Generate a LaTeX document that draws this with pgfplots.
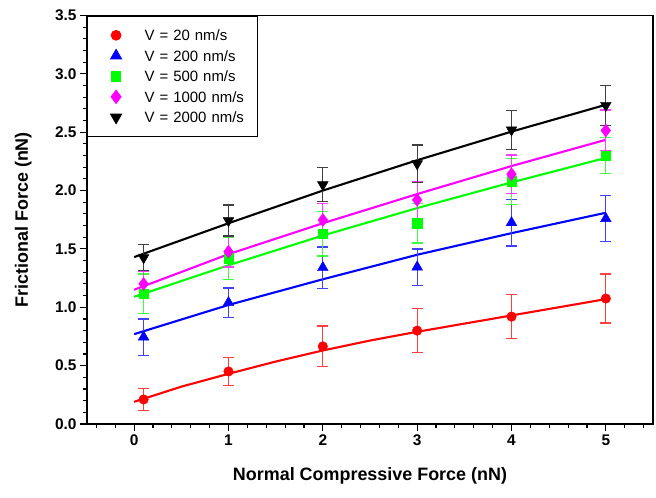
\documentclass[border=0pt]{standalone}
\usepackage{fontspec}
\setmainfont{Liberation Sans}
\usepackage{pgfplots}
\pgfplotsset{compat=1.18}
\definecolor{cgreen}{RGB}{0,255,0}
\definecolor{cmag}{RGB}{255,0,255}
\pgfplotsset{
  ebar/.style={error bars/.cd, y dir=both, y explicit,
    error bar style={line width=1.2bp, draw=#1},
    error mark options={rotate=90, mark size=5.5bp, line width=1.2bp, draw=#1}},
}
\begin{document}
\begin{tikzpicture}
\begin{axis}[name=ax, scale only axis, width=566bp, height=408.5bp,
  xmin=-0.5, xmax=5.5, ymin=0, ymax=3.5,
  xtick={0,1,2,3,4,5},
  minor xtick={-0.4,-0.2,0.2,0.4,0.6,0.8,1.2,1.4,1.6,1.8,2.2,2.4,2.6,2.8,3.2,3.4,3.6,3.8,4.2,4.4,4.6,4.8,5.2,5.4},
  ytick={0,0.5,1,1.5,2,2.5,3,3.5}, minor y tick num=4,
  xtick pos=bottom, ytick pos=left,
  tick align=outside, major tick length=7bp, minor tick length=4bp,
  axis line style={line width=1.3bp},
  every tick/.style={black, line width=1.1bp},
  /pgf/number format/assume math mode=true,
  ticklabel style={font=\fontsize{15.5}{16}\selectfont\bfseries},
  yticklabel style={/pgf/number format/.cd, fixed, fixed zerofill, precision=1},
  xlabel={Normal Compressive Force (nN)},
  ylabel={Frictional Force (nN)},
  every axis x label/.style={at={(axis description cs:0.5,0)}, anchor=base, yshift=-56bp, font=\fontsize{18}{18}\selectfont\bfseries},
  every axis y label/.style={at={(axis description cs:0,0.5)}, xshift=-59bp, rotate=90, anchor=base, font=\fontsize{18}{18}\selectfont\bfseries},
  legend image code/.code={\path (0bp,0bp) (56bp,0bp); \draw[#1] plot coordinates {(28bp,0bp)};},
  legend style={at={(0,1)}, anchor=north west, draw=black, line width=1.1bp, inner xsep=0pt, inner ysep=9bp, row sep=0pt, column sep=0pt,
    font=\fontsize{15}{15}\selectfont,
    nodes={inner sep=0pt, text width=113bp, align=left, text height=15.65bp, text depth=4.85bp}},
  legend cell align=left,
]
% fit lines
\addplot[red, line width=2.1bp, forget plot] coordinates {(0,0.19) (0.5,0.32) (1,0.43) (1.5,0.535) (2,0.63) (2.5,0.715) (3,0.79) (3.5,0.86) (4,0.93) (4.5,1.0) (5,1.07)};
\addplot[blue, line width=2.1bp, forget plot] coordinates {(0,0.77) (1,1.02) (2,1.24) (3,1.45) (4,1.635) (5,1.81)};
\addplot[cgreen, line width=2.1bp, forget plot] coordinates {(0,1.09) (1,1.36) (2,1.615) (3,1.85) (4,2.07) (5,2.28)};
\addplot[cmag, line width=2.1bp, forget plot] coordinates {(0,1.15) (1,1.455) (2,1.72) (3,1.97) (4,2.21) (5,2.435)};
\addplot[black, line width=2.1bp, forget plot] coordinates {(0,1.43) (1,1.72) (2,2.0) (3,2.26) (4,2.505) (5,2.735)};
% data with error bars
\addplot[only marks, mark=*, color=red, mark size=4.8bp, ebar=red!75!white]
  coordinates {(0.1,0.21) +- (0,0.095) (1,0.45) +- (0,0.12) (2,0.665) +- (0,0.175) (3,0.80) +- (0,0.19) (4,0.92) +- (0,0.19) (5,1.075) +- (0,0.21)};
\addlegendentry{V = 20 nm/s}
\addplot[only marks, mark=triangle*, color=blue, mark size=6.2bp, ebar=blue!75!white]
  coordinates {(0.1,0.745) +- (0,0.155) (1,1.04) +- (0,0.126) (2,1.34) +- (0,0.177) (3,1.345) +- (0,0.155) (4,1.725) +- (0,0.2) (5,1.76) +- (0,0.195)};
\addlegendentry{V = 200 nm/s}
\addplot[only marks, mark=square*, color=cgreen, mark size=4.8bp, ebar=cgreen!75!white]
  coordinates {(0.1,1.115) +- (0,0.17) (1,1.42) +- (0,0.18) (2,1.63) +- (0,0.19) (3,1.72) +- (0,0.17) (4,2.08) +- (0,0.197) (5,2.3) +- (0,0.157)};
\addlegendentry{V = 500 nm/s}
\addplot[only marks, mark=diamond*, color=cmag, mark size=6.5bp, ebar=cmag!75!white]
  coordinates {(0.1,1.2) +- (0,0.105) (1,1.476) +- (0,0.13) (2,1.748) +- (0,0.14) (3,1.92) +- (0,0.16) (4,2.14) +- (0,0.165) (5,2.515) +- (0,0.175)};
\addlegendentry{V = 1000 nm/s}
\addplot[only marks, mark=triangle*, mark options={rotate=180}, color=black, mark size=6.2bp, ebar=black!75!white]
  coordinates {(0.1,1.425) +- (0,0.11) (1,1.743) +- (0,0.133) (2,2.05) +- (0,0.146) (3,2.23) +- (0,0.16) (4,2.52) +- (0,0.165) (5,2.73) +- (0,0.17)};
\addlegendentry{V = 2000 nm/s}
\end{axis}
\pgfresetboundingbox
\path[use as bounding box] ([shift={(-87bp,-74bp)}]ax.south west) rectangle ([shift={(3bp,15.5bp)}]ax.north east);
\end{tikzpicture}
\end{document}
